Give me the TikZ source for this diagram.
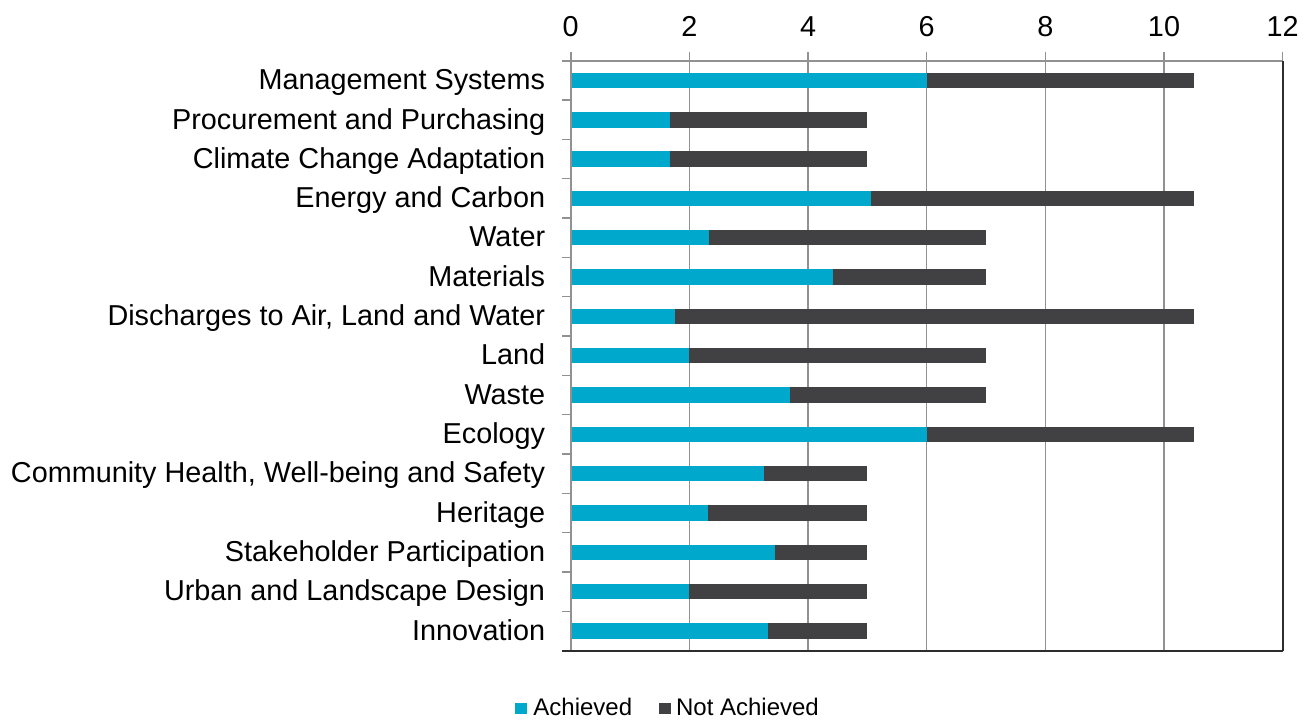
\documentclass[tikz,border=0pt]{standalone}
\usepackage{fontspec}
\setmainfont{Liberation Sans}
\definecolor{ach}{RGB}{0,168,204}
\definecolor{nach}{RGB}{65,65,67}
\definecolor{gridc}{RGB}{145,145,145}
\definecolor{axc}{RGB}{45,45,45}
\begin{document}
\begin{tikzpicture}[x=0.5pt,y=-0.5pt,
  catlbl/.style={font=\fontsize{14.4}{16}\selectfont, inner sep=0pt, anchor=base east},
  ticklbl/.style={font=\fontsize{14.4}{16}\selectfont, inner sep=0pt, anchor=base},
  leglbl/.style={font=\fontsize{12}{14}\selectfont, inner sep=0pt, anchor=base west},
  gridline/.style={draw=gridc, line width=0.8pt},
  axisline/.style={draw=axc, line width=0.9pt}]
\useasboundingbox (0,0) rectangle (1311,719);
\fill[white] (0,0) rectangle (1311,719);
% gridlines
\foreach \v in {0,2,4,6,8,10,12} {
  \draw[gridline] ({570.7+\v*59.33},51.5) -- ({570.7+\v*59.33},60.7);
}
\foreach \v in {0,2,4,6,8,10} {
  \draw[gridline] ({570.7+\v*59.33},60.7) -- ({570.7+\v*59.33},650.7);
}
\draw[gridline] (562,60.7) -- (1283.3,60.7);
% left ticks
\foreach \k in {0,...,14} {
  \draw[gridline] (562,{60.7+39.33*\k}) -- (570.7,{60.7+39.33*\k});
}
% bars
\foreach \i/\lab/\a/\t in {
  0/{Management Systems}/6/10.5,
  1/{Procurement and Purchasing}/1.67/5,
  2/{Climate Change Adaptation}/1.67/5,
  3/{Energy and Carbon}/5.06/10.5,
  4/{Water}/2.33/7,
  5/{Materials}/4.42/7,
  6/{Discharges to Air, Land and Water}/1.76/10.5,
  7/{Land}/2/7,
  8/{Waste}/3.7/7,
  9/{Ecology}/6/10.5,
  10/{Community Health, Well-being and Safety}/3.25/5,
  11/{Heritage}/2.31/5,
  12/{Stakeholder Participation}/3.44/5,
  13/{Urban and Landscape Design}/2/5,
  14/{Innovation}/3.33/5} {
  \pgfmathsetmacro{\c}{60.7+39.33*(\i+0.5)}
  \fill[ach] (570.7,{\c-7.8}) rectangle ({570.7+\a*59.33},{\c+7.8});
  \fill[nach] ({570.7+\a*59.33},{\c-7.8}) rectangle ({570.7+\t*59.33},{\c+7.8});
  \node[catlbl] (l\i) at (545.5,{\c+9.3}) {\lab};
}
% axes
\draw[gridline] (570.7,60.7) -- (570.7,650.7);
\draw[axisline] (562,650.7) -- (1283.3,650.7);
\draw[axisline] (1283.3,60.7) -- (1283.3,650.7);
% tick labels
\foreach \v in {0,2,4,6,8,10,12} {
  \node[ticklbl] (t\v) at ({570.7+\v*59.33},36) {\v};
}
% legend
\fill[ach] (515,703) rectangle (526.7,714.3);
\node[leglbl] (legA) at (533,715) {Achieved};
\fill[nach] (659.3,703) rectangle (671,714.3);
\node[leglbl] (legN) at (675.7,715) {Not Achieved};
\end{tikzpicture}
\end{document}
